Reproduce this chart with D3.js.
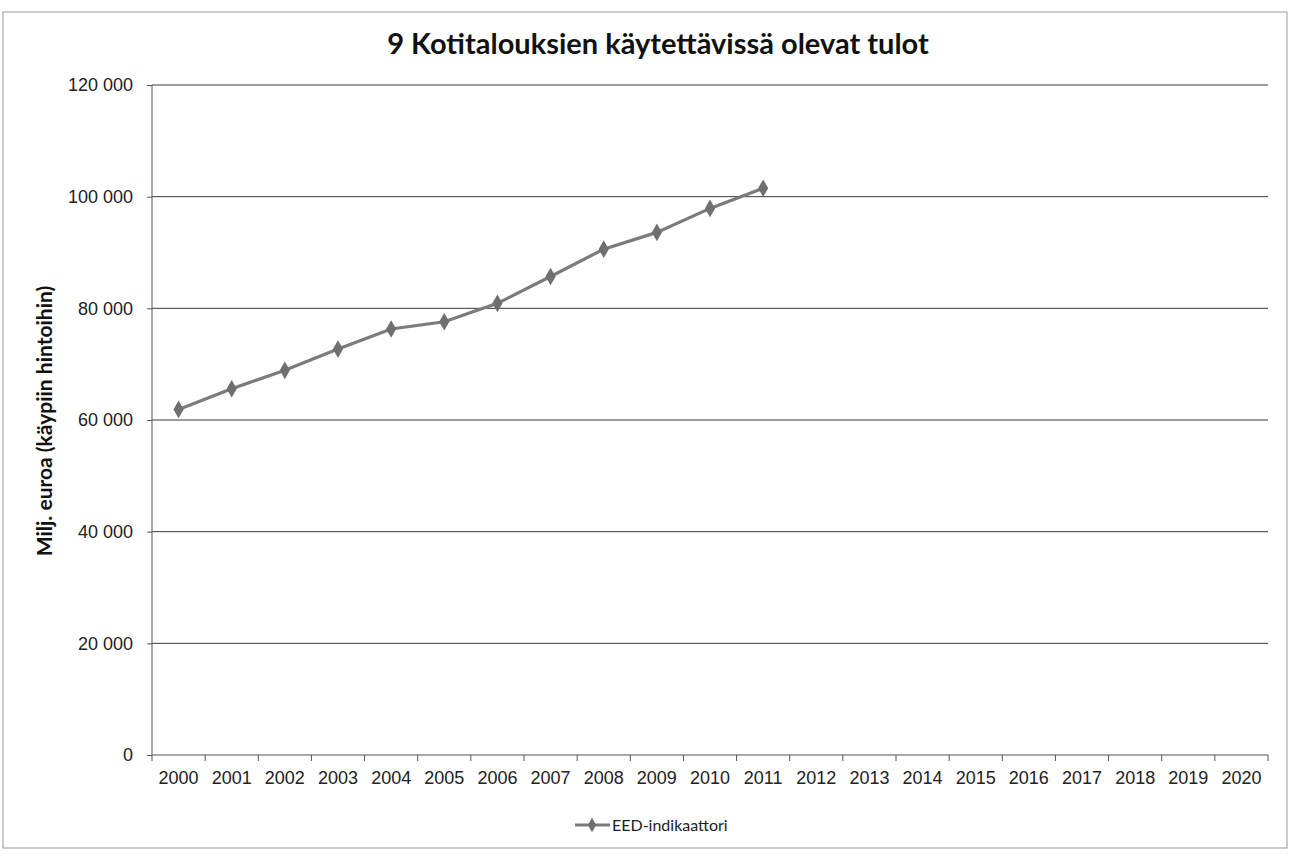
<!DOCTYPE html>
<html>
<head>
<meta charset="utf-8">
<script src="https://cdn.jsdelivr.net/npm/d3@7"></script>
<style>
  body { margin: 0; background: #fff; }
  svg { font-family: Lato, "Open Sans", sans-serif; }
  .grid line { stroke: #3a3a3a; stroke-width: 1; }
  .axis path, .axis line { stroke: #555; }
  .axis text { fill: #222; font-size: 18px; }
</style>
</head>
<body>
<svg width="1297" height="854"></svg>
<script>
'use strict';

var years = ['2000', '2001', '2002', '2003', '2004', '2005', '2006', '2007', '2008', '2009', '2010',
    '2011', '2012', '2013', '2014', '2015', '2016', '2017', '2018', '2019', '2020'];
var eedYears = ['2000', '2001', '2002', '2003', '2004', '2005', '2006', '2007', '2008', '2009', '2010', '2011'];
var eedValues = [61900, 65600, 68900, 72700, 76300, 77600, 80900, 85700, 90600, 93600, 97900, 101500];
var yTicks = [0, 20000, 40000, 60000, 80000, 100000, 120000];

var title = '9 Kotitalouksien käytettävissä olevat tulot';
var yLabel = 'Milj. euroa (käypiin hintoihin)';
var seriesName = 'EED-indikaattori';

var svg = d3.select('svg');

var margin = { top: 85, right: 29, bottom: 99, left: 152 };
var width = +svg.attr('width') - margin.left - margin.right;
var height = +svg.attr('height') - margin.top - margin.bottom;

var fi = d3.formatLocale({ decimal: ',', thousands: ' ', grouping: [3], currency: ['', ' €'] });
var fmt = fi.format(',');

var x = d3.scaleBand().domain(years).range([0, width]);
var y = d3.scaleLinear().domain([0, 120000]).range([height, 0]);

// outer frame
svg.append('rect')
    .attr('x', 3).attr('y', 12)
    .attr('width', 1284).attr('height', 836)
    .attr('fill', 'none')
    .attr('stroke', '#9a9a9a');

svg.append('text')
    .attr('x', 658).attr('y', 54)
    .attr('text-anchor', 'middle')
    .style('font-size', '29px')
    .style('font-weight', 'bold')
    .style('fill', '#111')
    .text(title);

var g = svg.append('g')
    .attr('transform', 'translate(' + margin.left + ',' + margin.top + ')');

g.append('g')
    .attr('class', 'grid')
    .selectAll('line')
    .data(yTicks.slice(1))
    .enter().append('line')
    .attr('x1', 0).attr('x2', width)
    .attr('y1', function(d) { return y(d); })
    .attr('y2', function(d) { return y(d); });

var yAxis = g.append('g')
    .attr('class', 'axis')
    .call(d3.axisLeft(y).tickValues(yTicks).tickFormat(fmt).tickSize(5).tickPadding(14));
yAxis.select('.domain').attr('d', 'M0,' + height + 'V0');

var xAxis = g.append('g')
    .attr('class', 'axis')
    .attr('transform', 'translate(0,' + height + ')')
    .call(d3.axisBottom(x).tickSize(0).tickPadding(16));
xAxis.select('.domain').attr('d', 'M0,0H' + width);

// category separator ticks
xAxis.selectAll('.sep')
    .data(years.concat(['end']))
    .enter().append('line')
    .attr('class', 'sep')
    .attr('x1', function(d, i) { return i * x.step(); })
    .attr('x2', function(d, i) { return i * x.step(); })
    .attr('y1', 0).attr('y2', 6);

g.append('text')
    .attr('transform', 'translate(' + (52 - margin.left) + ',' + (421 - margin.top) + ') rotate(-90)')
    .attr('text-anchor', 'middle')
    .style('font-size', '21px')
    .style('font-weight', 'bold')
    .style('fill', '#111')
    .text(yLabel);

var points = eedYears.map(function(yr, i) { return { year: yr, value: eedValues[i] }; });

var line = d3.line()
    .x(function(d) { return x(d.year) + x.bandwidth() / 2; })
    .y(function(d) { return y(d.value); });

g.append('path')
    .datum(points)
    .attr('fill', 'none')
    .attr('stroke', '#7b7b7b')
    .attr('stroke-width', 3.2)
    .attr('d', line);

var diamond = d3.symbol().type(d3.symbolDiamond).size(90);

g.selectAll('.pt')
    .data(points)
    .enter().append('path')
    .attr('class', 'pt')
    .attr('d', diamond)
    .attr('fill', '#6f6f6f')
    .attr('transform', function(d) {
        return 'translate(' + (x(d.year) + x.bandwidth() / 2) + ',' + y(d.value) + ')';
    });

// legend
var lg = svg.append('g').attr('transform', 'translate(575,825)');
lg.append('line').attr('x1', 0).attr('x2', 35).attr('y1', 0).attr('y2', 0)
    .attr('stroke', '#7b7b7b').attr('stroke-width', 3);
lg.append('path').attr('d', d3.symbol().type(d3.symbolDiamond).size(60))
    .attr('transform', 'translate(17,0)').attr('fill', '#6f6f6f');
lg.append('text').attr('x', 37).attr('y', 5.5)
    .style('font-size', '16px').style('fill', '#222')
    .text(seriesName);
</script>
</body>
</html>
